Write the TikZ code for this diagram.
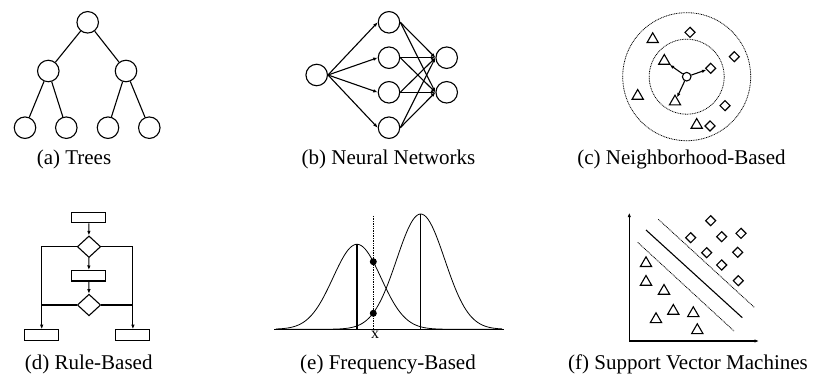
\documentclass[tikz,border=0pt]{standalone}
\usepackage{fontspec}
\setmainfont{Liberation Serif}
\usetikzlibrary{positioning,calc,shapes.geometric,arrows.meta}

\begin{document}
\begin{tikzpicture}[x=1pt, y=-1pt, line width=1.1pt,
    unit/.style={circle, draw, minimum size=21.5pt, inner sep=0pt},
    tri/.style={regular polygon, regular polygon sides=3, draw, minimum size=13pt, inner sep=0pt},
    dia/.style={diamond, draw, minimum size=10.5pt, inner sep=0pt},
    rulebox/.style={rectangle, draw, minimum width=34pt, minimum height=10.5pt, inner sep=0pt},
    test/.style={diamond, draw, minimum width=23.4pt, minimum height=21.6pt, inner sep=0pt},
    arr/.style={-{Latex[length=4.5pt,width=3.5pt]}},
    fine/.style={line width=0.8pt, dash pattern=on 0.9pt off 0.8pt},
    caption/.style={anchor=base, font=\fontsize{21}{24}\selectfont}]
    \useasboundingbox (0,0) rectangle (815,377);

    % (a) trees
    \node[unit] at (87.7,22.3) (Root) {};
    \node[unit] at (48.3,71) (MidL) {};
    \node[unit] at (126,71) (MidR) {};
    \node[unit] at (25,127.7) (LeafA) {};
    \node[unit] at (66.3,127.7) (LeafB) {};
    \node[unit] at (108,127.7) (LeafC) {};
    \node[unit] at (149.3,127.7) (LeafD) {};
    \draw (Root) -- (MidL);
    \draw (Root) -- (MidR);
    \draw (MidL) -- (LeafA);
    \draw (MidL) -- (LeafB);
    \draw (MidR) -- (LeafC);
    \draw (MidR) -- (LeafD);
    \node[caption] at (74,164.5) (CapA) {(a) Trees};

    % (b) neural networks
    \node[unit] at (316.7,75) (In) {};
    \node[unit] at (389,22.3) (HidA) {};
    \node[unit] at (389,57.7) (HidB) {};
    \node[unit] at (389,92.3) (HidC) {};
    \node[unit] at (389,127.7) (HidD) {};
    \node[unit] at (446.7,57.7) (OutA) {};
    \node[unit] at (446.7,92.3) (OutB) {};
    \foreach \h in {HidA,HidB,HidC,HidD} {
        \draw[arr] (In.east) -- (\h.west);
        \draw[arr] (\h.east) -- (OutA.west);
        \draw[arr] (\h.east) -- (OutB.west);
    }
    \node[caption] at (388.5,164.5) (CapB) {(b) Neural Networks};

    % (c) neighborhood-based
    \node at (686.7,76.7) (Query) {};
    \draw[fine] (Query.center) circle (64pt);
    \draw[fine] (Query.center) circle (37.5pt);
    \node[circle, draw, minimum size=8.6pt, inner sep=0pt] at (686.7,76.7) (QueryDot) {};
    \node[tri] at (652.7,39.3) (TriA) {};
    \node[tri] at (664.3,61) (TriB) {};
    \node[tri] at (637.7,96) (TriC) {};
    \node[tri] at (675,101.7) (TriD) {};
    \node[tri] at (696.7,125) (TriE) {};
    \node[dia] at (690,32.3) (DiaA) {};
    \node[dia] at (734.3,56.7) (DiaB) {};
    \node[dia] at (710.7,68.3) (DiaC) {};
    \node[dia] at (725,105.7) (DiaD) {};
    \node[dia] at (710,126) (DiaE) {};
    \draw[arr] (QueryDot) -- (TriB);
    \draw[arr] (QueryDot) -- (DiaC);
    \draw[arr] (QueryDot) -- (TriD);
    \node[caption] at (681.5,164.5) (CapC) {(c) Neighborhood-Based};

    % (d) rule-based
    \node[rulebox] at (88.8,217.5) (Start) {};
    \node[test] at (89,246.7) (TestA) {};
    \node[rulebox] at (88.8,275.8) (Step) {};
    \node[test] at (89,305) (TestB) {};
    \node[rulebox] at (41.7,335) (LeafL) {};
    \node[rulebox] at (132.9,335) (LeafR) {};
    \draw[arr] (Start) -- (TestA);
    \draw[arr] (TestA) -- (Step);
    \draw[arr] (Step) -- (TestB);
    \draw[arr] (TestA.west) -| (LeafL.north);
    \draw[arr] (TestA.east) -| (LeafR.north);
    \draw (TestB.west) -- (TestB.west -| LeafL.north);
    \draw (TestB.east) -- (TestB.east -| LeafR.north);
    \node[caption] at (88.7,369) (CapD) {(d) Rule-Based};

    % (e) frequency-based
    \coordinate (AxisL) at (274,329.3);
    \coordinate (AxisR) at (504.3,329.3);
    \draw (AxisL) -- (AxisR);
    \draw[line width=0.8pt] plot[domain=276:502, samples=120, smooth] (\x, {329.3-85*exp(-0.5*((\x-357)/24)^2)});
    \draw[line width=0.8pt] plot[domain=276:502, samples=120, smooth] (\x, {329.3-115.3*exp(-0.5*((\x-420.7)/24)^2)});
    \coordinate (PeakL) at (357,244.3);
    \coordinate (PeakR) at (420.7,214);
    \draw (PeakL) -- (PeakL |- AxisL);
    \draw (PeakR) -- (PeakR |- AxisL);
    \coordinate (Probe) at (373.3,216);
    \draw[fine] (Probe) -- (Probe |- AxisL);
    \node[circle, fill, minimum size=7pt, inner sep=0pt] at (373.3,261.7) (HitA) {};
    \node[circle, fill, minimum size=7pt, inner sep=0pt] at (373.3,313.3) (HitB) {};
    \node[font=\fontsize{16}{16}\selectfont] at (375,335) (ProbeLabel) {x};
    \node[caption] at (388,369) (CapE) {(e) Frequency-Based};

    % (f) support vector machines
    \coordinate (Origin) at (629.3,341);
    \coordinate (YTop) at (629.3,212.7);
    \coordinate (XEnd) at (759,341);
    \draw[{Latex[length=4.5pt,width=3.5pt]}-{Latex[length=4.5pt,width=3.5pt]}] (YTop) -- (Origin) -- (XEnd);
    \coordinate (SepA) at (646,230);
    \coordinate (SepB) at (742.3,317.7);
    \coordinate (MarUA) at (658.3,219.3);
    \coordinate (MarUB) at (754.3,307.3);
    \coordinate (MarLA) at (637.7,242.3);
    \coordinate (MarLB) at (734,331);
    \draw (SepA) -- (SepB);
    \draw[fine] (MarUA) -- (MarUB);
    \draw[fine] (MarLA) -- (MarLB);
    \node[dia] at (710.7,220.7) (SvDiaA) {};
    \node[dia] at (690.7,237.7) (SvDiaB) {};
    \node[dia] at (721.7,236.7) (SvDiaC) {};
    \node[dia] at (741,233.3) (SvDiaD) {};
    \node[dia] at (706.7,252.7) (SvDiaE) {};
    \node[dia] at (737.7,252.3) (SvDiaF) {};
    \node[dia] at (721.7,265) (SvDiaG) {};
    \node[dia] at (738.3,280.7) (SvDiaH) {};
    \node[tri] at (646,263.3) (SvTriA) {};
    \node[tri] at (646,282) (SvTriB) {};
    \node[tri] at (664,291) (SvTriC) {};
    \node[tri] at (673.3,311) (SvTriD) {};
    \node[tri] at (693.3,313.3) (SvTriE) {};
    \node[tri] at (656,319.3) (SvTriF) {};
    \node[tri] at (697.3,330.3) (SvTriG) {};
    \node[caption] at (688,369) (CapF) {(f) Support Vector Machines};
\end{tikzpicture}
\end{document}
